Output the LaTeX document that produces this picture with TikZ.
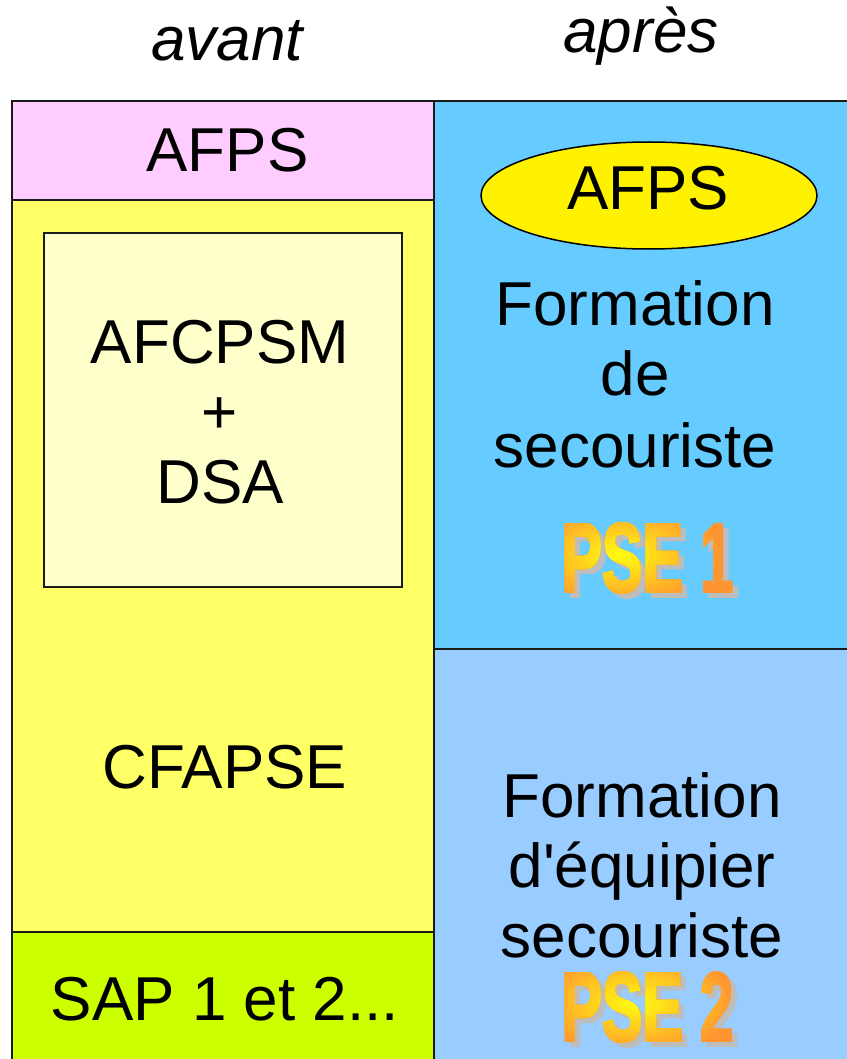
\documentclass[tikz,border=0pt]{standalone}
\usepackage{fontspec}
\setmainfont{Liberation Sans}
\newfontfamily\plainfnt{Liberation Sans}
\newfontfamily\psefam{Liberation Sans}[FakeBold=2.5]
\usetikzlibrary{shapes.geometric}
\definecolor{pinkA}{HTML}{FFCCFF}
\definecolor{yellowA}{HTML}{FFFF66}
\definecolor{creamA}{HTML}{FFFFCC}
\definecolor{limeA}{HTML}{CCFF00}
\definecolor{blueA}{HTML}{66CCFF}
\definecolor{blueB}{HTML}{99CCFF}
\definecolor{orangeA}{HTML}{FF9530}
\definecolor{yellowB}{HTML}{FFFF10}
\definecolor{shadowA}{HTML}{BDBDBD}
\definecolor{lineA}{HTML}{1A1A1A}
\newcommand{\psefnt}{\fontsize{98}{98}\selectfont\psefam\bfseries}
\tikzset{
  cell/.style={draw=lineA, line width=2pt, anchor=north west, inner sep=0pt, outer sep=0pt},
  txt/.style={anchor=base, inner sep=0pt, font=\fontsize{62}{70}\selectfont\plainfnt},
  hdr/.style={anchor=base, inner sep=0pt, font=\fontsize{62}{70}\selectfont\itshape},
  oval/.style={ellipse, draw=black, line width=1.5pt, fill=yellow, inner sep=0pt},
  psetext/.style={inner sep=0pt, font=\psefnt},
  pseshadow/.style={psetext, text=shadowA},
}
\begin{document}
\begin{tikzpicture}[x=1pt,y=-1pt]
\useasboundingbox[fill=white] (0,0) rectangle (846,1059);
% header
\node[hdr] (avant) at (227,61) {avant};
\node[hdr] (apres) at (641,53) {après};
% left column
\node[cell, fill=pinkA, minimum width=422pt, minimum height=99pt] (afpsold) at (12,101) {};
\node[cell, fill=yellowA, minimum width=422pt, minimum height=732pt] (yel) at (12,200) {};
\node[cell, fill=limeA, minimum width=422pt, minimum height=130pt] (sap) at (12,932) {};
\node[cell, fill=creamA, line width=1.6pt, minimum width=358pt, minimum height=354pt] (inner) at (44,233) {};
% right column
\node[cell, fill=blueA, minimum width=415pt, minimum height=548pt] (pseone) at (434,101) {};
\node[cell, fill=blueB, minimum width=415pt, minimum height=413pt] (psetwo) at (434,649) {};
% left texts
\node[txt] (afpst) at (227.5,172) {AFPS};
\node[txt] (afc1) at (220,363) {AFCPSM};
\node[txt] (afc2) at (220,433) {+};
\node[txt] (afc3) at (220,503) {DSA};
\node[txt] (cfapse) at (225,788) {CFAPSE};
\node[txt] (sapt) at (225,1020) {SAP 1 et 2...};
% right top
\node[oval, minimum width=336pt, minimum height=107pt] (ell) at (649,195.5) {};
\node[txt] (ellt) at (648,210) {AFPS};
\node[txt] (fa1) at (635,325) {Formation};
\node[txt] (fa2) at (635,395) {de};
\node[txt] (fa3) at (635,467) {secouriste};
% right bottom
\node[txt] (fb1) at (642,817) {Formation};
\node[txt] (fb2) at (642,887) {d'équipier};
\node[txt] (fb3) at (642,957) {secouriste};
% PSE 1
\node[pseshadow] (pse1s) at (653,563) {\scalebox{0.62}[1]{PSE 1}};
\node[psetext, text=orangeA] (pse1) at (647.5,558) {\scalebox{0.62}[1]{PSE 1}};
\foreach \i in {1,...,16}{
  \pgfmathsetmacro{\fr}{1-\i/17}
  \pgfmathsetmacro{\pc}{100*\fr}
  \begin{scope}
    \clip (620,555) ellipse [x radius={105*\fr}, y radius={55*\fr}];
    \node[psetext, text=orangeA!\pc!yellowB] (pse1g\i) at (647.5,558) {\scalebox{0.62}[1]{PSE 1}};
  \end{scope}
}
% PSE 2
\node[pseshadow] (pse2s) at (653,1012) {\scalebox{0.62}[1]{PSE 2}};
\node[psetext, text=orangeA] (pse2) at (647.5,1007) {\scalebox{0.62}[1]{PSE 2}};
\foreach \i in {1,...,16}{
  \pgfmathsetmacro{\fr}{1-\i/17}
  \pgfmathsetmacro{\pc}{100*\fr}
  \begin{scope}
    \clip (635,1003) ellipse [x radius={105*\fr}, y radius={55*\fr}];
    \node[psetext, text=orangeA!\pc!yellowB] (pse2g\i) at (647.5,1007) {\scalebox{0.62}[1]{PSE 2}};
  \end{scope}
}
\end{tikzpicture}
\end{document}
